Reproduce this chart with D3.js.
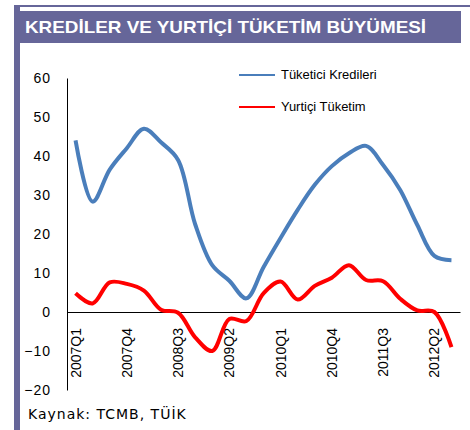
<!DOCTYPE html>
<html>
<head>
<meta charset="utf-8">
<script src="https://cdn.jsdelivr.net/npm/d3@7"></script>
<style>
  body { margin: 0; background: #fff; }
  svg { display: block; }
</style>
</head>
<body>
<div id="chart"></div>
<script>
// quarters on the category axis
const quarters = [
  '2007Q1', '2007Q2', '2007Q3', '2007Q4',
  '2008Q1', '2008Q2', '2008Q3', '2008Q4',
  '2009Q1', '2009Q2', '2009Q3', '2009Q4',
  '2010Q1', '2010Q2', '2010Q3', '2010Q4',
  '2011Q1', '2011Q2', '2011Q3', '2011Q4',
  '2012Q1', '2012Q2', '2012Q3'
];
const tickLabels = ['2007Q1', '2007Q4', '2008Q3', '2009Q2', '2010Q1', '2010Q4', '2011Q3', '2012Q2'];
const yTicks = [60, 50, 40, 30, 20, 10, 0, -10, -20];

// Tüketici Kredileri (blue)
const krediler = [44, 28.3, 36.5, 42, 47, 43.5, 39, 22.5, 12, 8, 3.5, 11.5,
  19, 26.2, 32.6, 37.4, 40.7, 42.6, 37.7, 31.3, 22.3, 14.4, 13.3];
// Yurtiçi Tüketim (red)
const tuketim = [4.8, 2.2, 7.6, 7.2, 5.5, 0.6, -0.2, -6.5, -10, -1.8, -2.3, 4.8,
  7.8, 3.2, 6.7, 8.8, 12, 8.2, 7.9, 3.4, 0.4, 0, -9];

const seriesNames = ['Tüketici Kredileri', 'Yurtiçi Tüketim'];
const seriesColors = ['#4a7ebb', '#ff0000'];

const width = 470, height = 430;
const purple = '#666699';

const svg = d3.select('#chart').append('svg')
  .attr('width', width)
  .attr('height', height);

// frame: left bar, top rule and title band
svg.append('rect').attr('x', 14).attr('y', 5).attr('width', 456).attr('height', 2).attr('fill', purple);
svg.append('rect').attr('x', 14).attr('y', 11).attr('width', 447).attr('height', 32).attr('fill', purple);
svg.append('rect').attr('x', 14).attr('y', 5).attr('width', 6).attr('height', 425).attr('fill', purple);

// the original picture is a bit stretched sideways, so the title is too
svg.append('text')
  .attr('transform', 'translate(25,33) scale(1.18,1)')
  .attr('fill', '#fff')
  .attr('font-family', '"Liberation Sans", Arial, sans-serif')
  .attr('font-weight', 'bold')
  .attr('font-size', 16)
  .text('KREDİLER VE YURTİÇİ TÜKETİM BÜYÜMESİ');

// scales
const x = d3.scaleBand().domain(quarters).range([67, 460]);
const y = d3.scaleLinear().domain([-20, 60]).range([390, 78]);
const cx = d => x(d) + x.bandwidth() / 2;

// y axis
const yAxis = svg.append('g')
  .attr('transform', 'translate(67,0)')
  .call(d3.axisLeft(y).tickValues(yTicks).tickSize(0).tickPadding(16).tickFormat(d3.format('d')));
yAxis.select('.domain').attr('stroke', '#000').attr('stroke-width', 1);
yAxis.selectAll('text')
  .attr('font-family', '"Liberation Sans", Arial, sans-serif')
  .attr('font-size', 14)
  .attr('letter-spacing', 1)
  .attr('fill', '#000');

// x axis on the zero line
const xAxis = svg.append('g')
  .attr('transform', `translate(0,${y(0)})`)
  .call(d3.axisBottom(x).tickValues(tickLabels).tickSize(0).tickSizeOuter(0));
xAxis.select('.domain').attr('stroke', '#000').attr('stroke-width', 1);
xAxis.selectAll('text')
  .attr('x', 0)
  .attr('y', 0)
  .attr('dy', '0.36em')
  .attr('text-anchor', 'end')
  .attr('transform', 'translate(0,16) rotate(-90)')
  .attr('font-family', '"Liberation Sans", Arial, sans-serif')
  .attr('font-size', 14)
  .attr('fill', '#000');

// lines
const line = d3.line()
  .x((d, i) => cx(quarters[i]))
  .y(d => y(d))
  .curve(d3.curveCatmullRom);

[krediler, tuketim].forEach((vals, k) => {
  svg.append('path')
    .datum(vals)
    .attr('fill', 'none')
    .attr('stroke', seriesColors[k])
    .attr('stroke-width', 4)
    .attr('stroke-linejoin', 'round')
    .attr('d', line);
});

// legend
const legend = svg.append('g')
  .selectAll('g')
  .data(seriesNames)
  .join('g')
  .attr('transform', (d, i) => `translate(239,${75 + i * 32})`);

legend.append('line')
  .attr('x1', 0).attr('x2', 36)
  .attr('stroke', (d, i) => seriesColors[i])
  .attr('stroke-width', 2);

legend.append('text')
  .attr('transform', 'translate(42,0) scale(1.08,1)')
  .attr('dy', '0.35em')
  .attr('font-family', '"Liberation Sans", Arial, sans-serif')
  .attr('font-size', 12)
  .attr('fill', '#000')
  .text(d => d);

// source note
svg.append('text')
  .attr('x', 28)
  .attr('y', 419)
  .attr('font-family', '"DejaVu Sans", Verdana, sans-serif')
  .attr('font-size', 14)
  .attr('letter-spacing', 1)
  .attr('fill', '#000')
  .text('Kaynak: TCMB, TÜİK');
</script>
</body>
</html>
